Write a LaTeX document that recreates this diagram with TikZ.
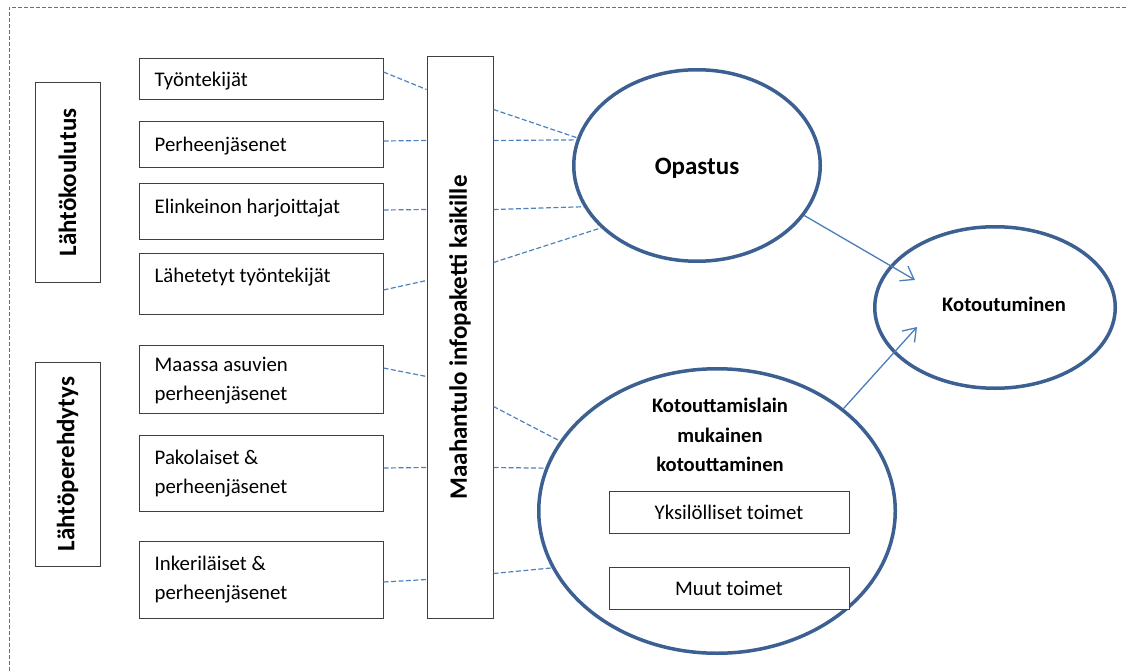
\documentclass[tikz,border=0pt]{standalone}
\usepackage{fontspec}
\setmainfont{Carlito}
\usetikzlibrary{shapes.geometric,calc,arrows.meta}
\definecolor{boxgray}{RGB}{64,64,64}
\definecolor{ellblue}{RGB}{60,96,145}
\definecolor{dashblue}{RGB}{79,129,189}
\definecolor{arrblue}{RGB}{74,126,187}
\definecolor{bordergray}{RGB}{110,110,110}
\newcommand\fReg{\fontsize{20.8}{29}\selectfont}
\newcommand\fBig{\bfseries\fontsize{25}{30}\selectfont}
\newcommand\fMid{\bfseries\fontsize{20.6}{29.5}\selectfont}
\begin{document}
\begin{tikzpicture}[x=1pt,y=-1pt,
  box/.style={draw=boxgray,line width=1pt,fill=white,inner sep=0pt},
  lbl/.style={font=\fReg,align=left,inner sep=0pt,anchor=west},
  rlbl/.style={font=\fBig,rotate=90,inner sep=0pt},
  ell/.style={ellipse,draw=ellblue,line width=3.5pt,inner sep=0pt},
  conn/.style={draw=dashblue,line width=1.2pt,dash pattern=on 5pt off 2.5pt},
  arr/.style={draw=arrblue,line width=1.3pt,-{Straight Barb[length=12pt,width=17pt,line width=1.3pt]}},
  border/.style={draw=bordergray,line width=1pt,dash pattern=on 4pt off 2pt}]
\useasboundingbox (0,0) rectangle (1126,671);
% border
\coordinate (br) at (1126,7.5);
\coordinate (bc) at (9,7.5);
\coordinate (bb) at (9,671);
\draw[border] (br) -- (bc) -- (bb);
% side boxes
\node[box,minimum width=65,minimum height=199] (k1) at (67.5,182.5) {};
\node[rlbl] (k1t) at (k1.center) {Lähtökoulutus};
\node[box,minimum width=65,minimum height=204] (k2) at (67.5,464) {};
\node[rlbl] (k2t) at (k2.center) {Lähtöperehdytys};
% left boxes
\node[box,minimum width=244,minimum height=41] (b1) at (261,79.5) {};
\node[box,minimum width=244,minimum height=46] (b2) at (261,145) {};
\node[box,minimum width=244,minimum height=55] (b3) at (261,211.5) {};
\node[box,minimum width=244,minimum height=61] (b4) at (261,283.5) {};
\node[box,minimum width=244,minimum height=68] (b5) at (261,379) {};
\node[box,minimum width=244,minimum height=76] (b6) at (261,473) {};
\node[box,minimum width=244,minimum height=77] (b7) at (261,579.5) {};
\node[lbl] (t1) at ($(b1.west)+(16,2)$) {Työntekijät};
\node[lbl] (t2) at ($(b2.west)+(16,1)$) {Perheenjäsenet};
\node[lbl] (t3) at ($(b3.west)+(16,-3)$) {Elinkeinon harjoittajat};
\node[lbl] (t4) at ($(b4.west)+(16,-6.5)$) {Lähetetyt työntekijät};
\node[lbl] (t5) at ($(b5.west)+(16,2)$) {Maassa asuvien\\perheenjäsenet};
\node[lbl] (t6) at ($(b6.west)+(16,1)$) {Pakolaiset \&\\perheenjäsenet};
\node[lbl] (t7) at ($(b7.west)+(16,0.5)$) {Inkeriläiset \&\\perheenjäsenet};
% info box
\node[box,minimum width=66,minimum height=561] (info) at (460,337.5) {};
\node[rlbl] (infot) at (info.center) {Maahantulo infopaketti kaikille};
% ellipses
\node[ell,minimum width=246.5,minimum height=191.5] (op) at (697,165.5) {};
\node[font=\fBig,inner sep=0pt] (opt) at (697,168) {Opastus};
\node[ell,minimum width=240.5,minimum height=161.5] (kot) at (995,307.5) {};
\node[font=\fMid,inner sep=0pt] (kott) at (1004,304) {Kotoutuminen};
\node[ell,minimum width=356.5,minimum height=284.5] (big) at (717,511) {};
\node[font=\fMid,align=center,inner sep=0pt] (bigt) at (720,435) {Kotouttamislain\\mukainen\\kotouttaminen};
\node[box,minimum width=240,minimum height=42,font=\fReg] (y1) at (729,512) {Yksilölliset toimet};
\node[box,minimum width=240,minimum height=42,font=\fReg] (y2) at (729,588) {Muut toimet};
% dashed connectors left
\draw[conn] ($(b1.east)+(0,-7.5)$) -- ($(info.north west)+(0,33)$);
\draw[conn] ($(b2.east)+(0,-4)$) -- ($(info.north west)+(0,84)$);
\draw[conn] ($(b3.east)+(0,-1.5)$) -- ($(info.north west)+(0,153)$);
\draw[conn] ($(b4.east)+(0,6.5)$) -- ($(info.north west)+(0,224)$);
\draw[conn] ($(b5.east)+(0,-11)$) -- ($(info.north west)+(0,320)$);
\draw[conn] ($(b6.east)+(0,-5)$) -- ($(info.north west)+(0,411)$);
\draw[conn] ($(b7.east)+(0,2.5)$) -- ($(info.north west)+(0,523)$);
% dashed connectors right
\draw[conn] ($(info.north east)+(0,53)$) -- (op.167.7);
\draw[conn] ($(info.north east)+(0,84)$) -- (op.168.2);
\draw[conn] ($(info.north east)+(0,153)$) -- (op.200.8);
\draw[conn] ($(info.north east)+(0,206)$) -- (op.213.6);
\draw[conn] ($(info.north east)+(0,350)$) -- (big.156.9);
\draw[conn] ($(info.north east)+(0,411)$) -- (big.166.3);
\draw[conn] ($(info.north east)+(0,517)$) -- (big.199.1);
% arrows
\coordinate (a1) at (915,280);
\coordinate (a2) at (917,327);
\draw[arr] (op.335.5) -- (a1);
\draw[arr] (big.39.4) -- (a2);
\end{tikzpicture}
\end{document}
